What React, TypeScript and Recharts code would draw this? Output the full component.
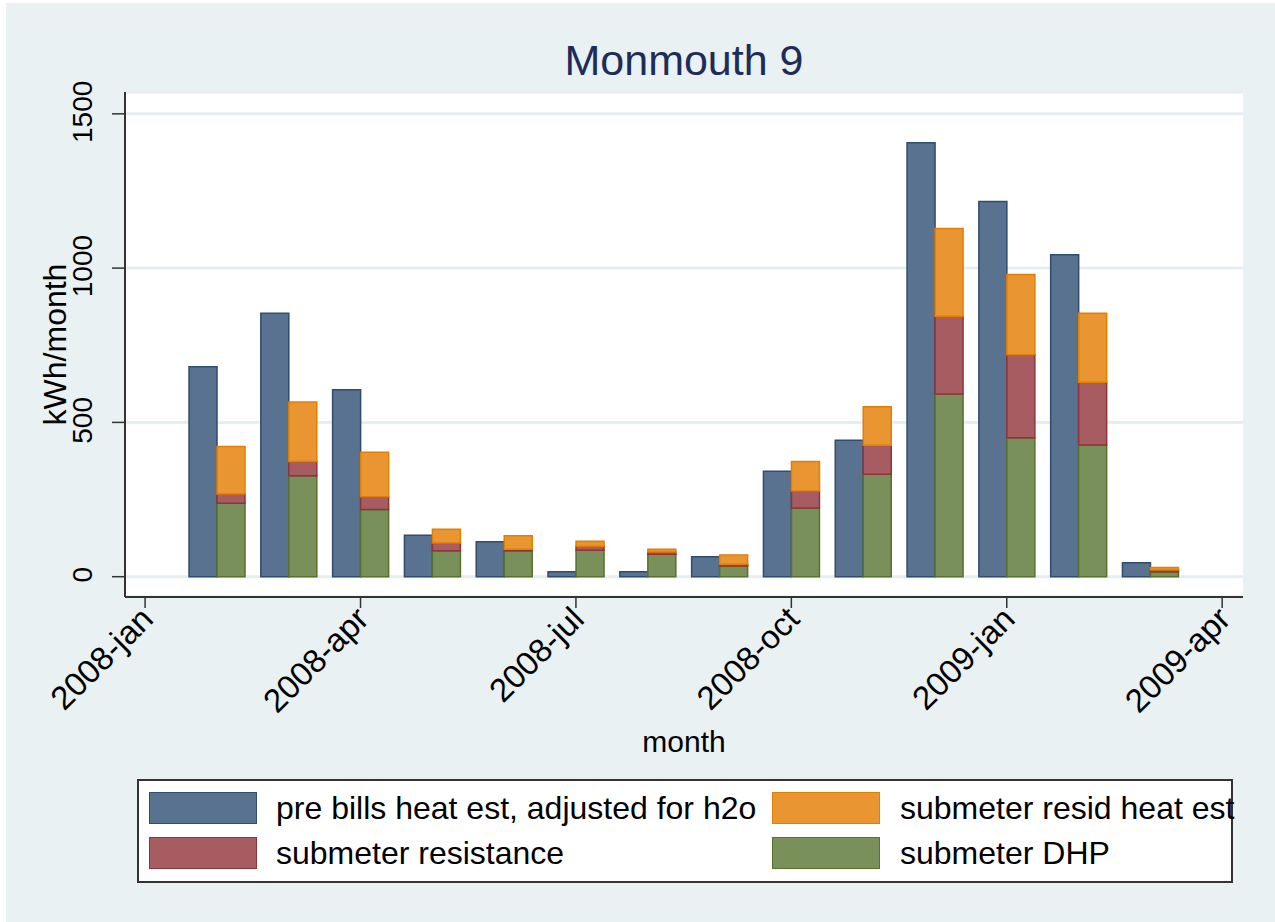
import React from 'react';
import { BarChart, Bar, XAxis, YAxis, CartesianGrid } from 'recharts';

// month index: 0 = 2008-jan
const monthIndex = [1, 2, 3, 4, 5, 6, 7, 8, 9, 10, 11, 12, 13, 14];
const preBills = [680, 854, 606, 134, 113, 16, 16, 65, 342, 442, 1406, 1216, 1043, 45];
const dhp = [238, 327, 218, 84, 84, 86, 73, 35, 223, 332, 592, 450, 427, 16];
const resistance = [30, 46, 41, 25, 5, 13, 7, 5, 55, 94, 252, 269, 203, 6];
const residHeat = [154, 193, 144, 45, 44, 16, 9, 30, 95, 125, 284, 260, 224, 8];

const xTickValues = [0, 3, 6, 9, 12, 15];
const xTickLabels = ['2008-jan', '2008-apr', '2008-jul', '2008-oct', '2009-jan', '2009-apr'];
const yTickValues = [0, 500, 1000, 1500];

const seriesNames = {
  pre: 'pre bills heat est, adjusted for h2o',
  resid: 'submeter resid heat est',
  res: 'submeter resistance',
  dhp: 'submeter DHP',
};

const COLORS = {
  pre: { fill: '#58728f', stroke: '#2f4d70' },
  resid: { fill: '#e99632', stroke: '#e27f00' },
  res: { fill: '#a65c60', stroke: '#8e353b' },
  dhp: { fill: '#79905a', stroke: '#55732f' },
};

const data = monthIndex.map((m, i) => ({
  m,
  pre: preBills[i],
  dhp: dhp[i],
  res: resistance[i],
  resid: residHeat[i],
}));

const FONT = '"Liberation Sans", Arial, Helvetica, sans-serif';

const YTick = (props: any) => {
  const { x, y, payload } = props;
  const bx = x - 18;
  return (
    <text x={bx} y={y - 2} transform={`rotate(-90, ${bx}, ${y - 2})`} textAnchor="middle" fontSize={28} fontFamily={FONT} fill="#000">
      {payload.value}
    </text>
  );
};

const XTick = (props: any) => {
  const { x, y, payload } = props;
  const idx = xTickValues.indexOf(payload.value);
  const ax = x + 10;
  const ay = y + 11;
  return (
    <text x={ax} y={ay} transform={`rotate(-45, ${ax}, ${ay})`} textAnchor="end" fontSize={33} fontFamily={FONT} fill="#000">
      {idx >= 0 ? xTickLabels[idx] : ''}
    </text>
  );
};

const legendItems = [
  { key: 'pre', row: 0, col: 0 },
  { key: 'resid', row: 0, col: 1 },
  { key: 'res', row: 1, col: 0 },
  { key: 'dhp', row: 1, col: 1 },
];

export default function App() {
  return (
    <div style={{ position: 'absolute', left: 0, top: 0, width: 1275, height: 922, background: '#fff', overflow: 'hidden' }}>
      <div style={{ position: 'absolute', left: 6, top: 3, right: 0, bottom: 0, background: '#e9f1f3' }} />
      <div style={{ position: 'absolute', left: 0, top: 0 }}>
        <BarChart
          width={1275}
          height={922}
          data={data}
          margin={{ top: 92, right: 32, left: 35, bottom: 225 }}
          barGap={0}
        >
          <CartesianGrid horizontal vertical={false} stroke="#e6eef1" strokeWidth={3} fill="#ffffff" />
          <XAxis
            dataKey="m"
            type="number"
            domain={[-0.28, 15.29]}
            allowDataOverflow
            ticks={xTickValues}
            interval={0}
            height={100}
            tickSize={11}
            tickLine={{ stroke: '#333', strokeWidth: 1.5 }}
            axisLine={{ stroke: '#333', strokeWidth: 2 }}
            tick={<XTick />}
            label={{
              content: (p: any) => {
                const vb = p.viewBox;
                return (
                  <text x={vb.x + vb.width / 2} y={752} textAnchor="middle" fontSize={30} fontFamily={FONT} fill="#000">
                    month
                  </text>
                );
              },
            }}
          />
          <YAxis
            type="number"
            domain={[-65.8, 1570.7]}
            allowDataOverflow
            ticks={yTickValues}
            interval={0}
            width={90}
            tickSize={13}
            tickLine={{ stroke: '#333', strokeWidth: 1.5 }}
            axisLine={{ stroke: '#333', strokeWidth: 2 }}
            tick={<YTick />}
            label={{
              content: (p: any) => {
                const vb = p.viewBox;
                const lx = 66;
                const ly = vb.y + vb.height / 2;
                return (
                  <text x={lx} y={ly} transform={`rotate(-90, ${lx}, ${ly})`} textAnchor="middle" fontSize={32} fontFamily={FONT} fill="#000">
                    kWh/month
                  </text>
                );
              },
            }}
          />
          <Bar dataKey="pre" name={seriesNames.pre} stackId="a" fill={COLORS.pre.fill} stroke={COLORS.pre.stroke} strokeWidth={1.5} barSize={28} isAnimationActive={false} />
          <Bar dataKey="dhp" name={seriesNames.dhp} stackId="b" fill={COLORS.dhp.fill} stroke={COLORS.dhp.stroke} strokeWidth={1.5} barSize={28} isAnimationActive={false} />
          <Bar dataKey="res" name={seriesNames.res} stackId="b" fill={COLORS.res.fill} stroke={COLORS.res.stroke} strokeWidth={1.5} barSize={28} isAnimationActive={false} />
          <Bar dataKey="resid" name={seriesNames.resid} stackId="b" fill={COLORS.resid.fill} stroke={COLORS.resid.stroke} strokeWidth={1.5} barSize={28} isAnimationActive={false} />
        </BarChart>
      </div>
      <div
        style={{
          position: 'absolute',
          left: 184,
          top: 39,
          width: 1000,
          textAlign: 'center',
          fontSize: 43,
          lineHeight: '43px',
          fontFamily: FONT,
          color: '#1e2c5a',
        }}
      >
        Monmouth 9
      </div>
      <div
        style={{
          position: 'absolute',
          left: 137,
          top: 779,
          width: 1096,
          height: 104,
          border: '2px solid #333',
          background: '#fff',
          boxSizing: 'border-box',
          fontFamily: FONT,
        }}
      >
        {legendItems.map((it) => {
          const c = (COLORS as any)[it.key];
          const top = it.row === 0 ? 11 : 56;
          const swLeft = it.col === 0 ? 10 : 633;
          const txLeft = it.col === 0 ? 137 : 761;
          return (
            <React.Fragment key={it.key}>
              <div
                style={{
                  position: 'absolute',
                  left: swLeft,
                  top,
                  width: 108,
                  height: 32,
                  background: c.fill,
                  border: `1.5px solid ${c.stroke}`,
                  boxSizing: 'border-box',
                }}
              />
              <div
                style={{
                  position: 'absolute',
                  left: txLeft,
                  top,
                  fontSize: 32,
                  lineHeight: '32px',
                  whiteSpace: 'nowrap',
                  color: '#000',
                }}
              >
                {(seriesNames as any)[it.key]}
              </div>
            </React.Fragment>
          );
        })}
      </div>
    </div>
  );
}
